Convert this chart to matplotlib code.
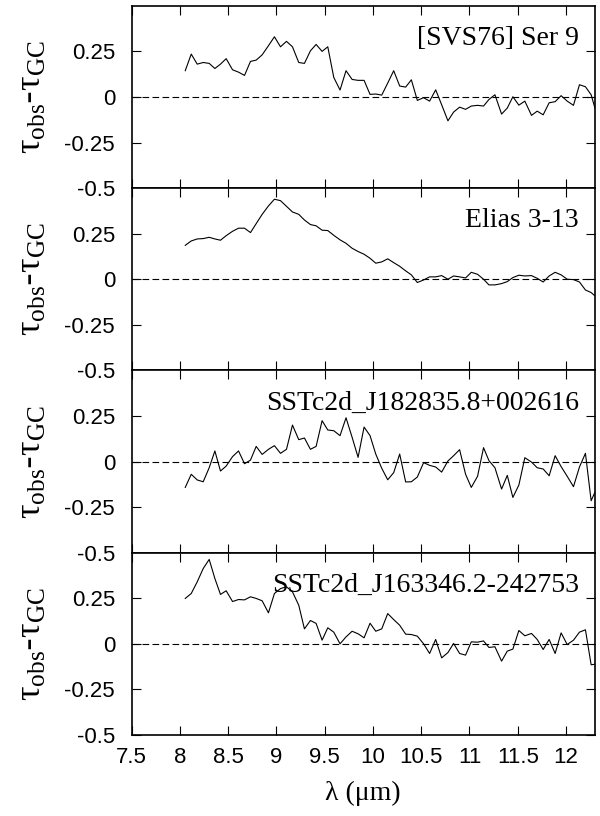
import matplotlib
matplotlib.use('Agg')
import matplotlib.pyplot as plt

plt.rcParams['mathtext.fontset'] = 'custom'
plt.rcParams['mathtext.rm'] = 'Liberation Serif'
plt.rcParams['mathtext.it'] = 'Liberation Serif:italic'
plt.rcParams['axes.unicode_minus'] = False

# wavelength grid (micron), shared by all four sources
wave = [8.055, 8.117, 8.179, 8.241, 8.303, 8.362, 8.420, 8.479, 8.545, 8.607,
        8.669, 8.731, 8.790, 8.852, 8.917, 8.979, 9.042, 9.104, 9.166, 9.231,
        9.290, 9.352, 9.411, 9.473, 9.532, 9.594, 9.659, 9.721, 9.784, 9.846,
        9.908, 9.970, 10.029, 10.091, 10.153, 10.215, 10.277, 10.339, 10.398, 10.460,
        10.525, 10.587, 10.650, 10.712, 10.777, 10.836, 10.898, 10.960, 11.019, 11.084,
        11.146, 11.202, 11.264, 11.333, 11.392, 11.450, 11.512, 11.574, 11.643, 11.702,
        11.764, 11.826, 11.888, 11.950, 12.013, 12.078, 12.140, 12.202, 12.261, 12.300]

ser9 = [0.144, 0.235, 0.180, 0.189, 0.184, 0.156, 0.180, 0.210, 0.149, 0.136,
        0.118, 0.195, 0.202, 0.231, 0.281, 0.330, 0.275, 0.305, 0.275, 0.189,
        0.184, 0.253, 0.288, 0.250, 0.275, 0.107, 0.038, 0.144, 0.096, 0.091,
        0.091, 0.014, 0.016, 0.010, 0.076, 0.144, 0.060, 0.054, 0.094, -0.019,
        -0.004, -0.023, 0.039, -0.043, -0.131, -0.083, -0.056, -0.068, -0.050, -0.046,
        -0.050, -0.014, 0.012, -0.094, -0.061, 0.001, -0.045, -0.023, -0.101, -0.078,
        -0.098, -0.032, -0.026, 0.007, -0.023, -0.046, 0.067, 0.056, 0.012, -0.060]

elias = [0.186, 0.210, 0.221, 0.223, 0.230, 0.221, 0.214, 0.239, 0.263, 0.280,
         0.280, 0.256, 0.305, 0.356, 0.402, 0.439, 0.431, 0.400, 0.369, 0.356,
         0.325, 0.300, 0.293, 0.269, 0.267, 0.241, 0.216, 0.197, 0.170, 0.152,
         0.137, 0.115, 0.088, 0.095, 0.112, 0.091, 0.071, 0.046, 0.024, -0.018,
         -0.004, 0.013, 0.013, 0.020, 0.000, 0.018, 0.013, 0.007, 0.038, 0.027,
         0.000, -0.031, -0.031, -0.024, -0.013, 0.009, 0.022, 0.018, 0.020, 0.005,
         -0.015, 0.018, 0.038, 0.024, 0.000, -0.002, -0.015, -0.059, -0.073, -0.091]

j1828 = [-0.142, -0.070, -0.101, -0.111, -0.034, 0.058, -0.052, -0.025, 0.027, 0.058,
         -0.012, 0.008, 0.083, 0.039, 0.067, 0.087, 0.045, 0.067, 0.200, 0.120,
         0.129, 0.067, 0.083, 0.224, 0.173, 0.169, 0.142, 0.240, 0.133, 0.023,
         0.189, 0.142, 0.041, -0.037, -0.100, -0.061, 0.041, -0.112, -0.111, -0.085,
         -0.006, -0.021, -0.030, -0.058, 0.003, 0.032, 0.065, -0.070, -0.142, -0.081,
         0.076, 0.005, -0.034, -0.151, -0.076, -0.197, -0.129, 0.021, -0.003, -0.034,
         -0.041, -0.078, 0.032, -0.028, -0.081, -0.138, -0.030, 0.045, -0.215, -0.169]

j1633 = [0.249, 0.276, 0.340, 0.413, 0.463, 0.358, 0.271, 0.291, 0.232, 0.243,
         0.241, 0.258, 0.249, 0.236, 0.170, 0.276, 0.303, 0.313, 0.285, 0.212,
         0.082, 0.128, 0.112, 0.020, 0.088, 0.064, 0.000, 0.038, 0.069, 0.055,
         0.033, 0.113, 0.069, 0.082, 0.166, 0.133, 0.102, 0.053, 0.051, 0.042,
         0.000, -0.053, 0.024, -0.077, -0.048, 0.002, -0.053, -0.062, 0.011, 0.009,
         0.016, -0.020, -0.016, -0.095, -0.040, -0.029, 0.073, 0.044, 0.057, 0.024,
         -0.031, 0.024, -0.053, 0.060, -0.004, 0.020, 0.064, 0.077, -0.115, -0.112]

names = ['[SVS76] Ser 9', 'Elias 3-13', 'SSTc2d_J182835.8+002616', 'SSTc2d_J163346.2-242753']
series = [ser9, elias, j1828, j1633]

xticks = [7.5, 8, 8.5, 9, 9.5, 10, 10.5, 11, 11.5, 12]
xticklabels = ['7.5', '8', '8.5', '9', '9.5', '10', '10.5', '11', '11.5', '12']
yticks = [-0.5, -0.25, 0, 0.25]
yticklabels = ['-0.5', '-0.25', '0', '0.25']

fig = plt.figure(figsize=(6.0, 8.16), dpi=100)
left, width = 0.2195, 0.772
bottom, height = 0.0993, 0.2234

for i, (name, tau) in enumerate(zip(names, series)):
    ax = fig.add_axes([left, bottom + (3 - i) * height, width, height])
    ax.plot(wave, tau, color='black', lw=0.8)
    ax.axhline(0, color='black', lw=0.8, linestyle=(0, (6, 3)))
    ax.set_xlim(7.5, 12.3)
    ax.set_ylim(-0.5, 0.5)
    ax.set_xticks(xticks)
    ax.set_yticks(yticks)
    ax.set_yticklabels(yticklabels, family='Liberation Sans', fontsize=16)
    if i == 3:
        ax.set_xticklabels(xticklabels, family='Liberation Sans', fontsize=16)
        ax.set_xlabel('λ (μm)', family='Liberation Serif', fontsize=20, labelpad=9)
    else:
        ax.set_xticklabels([])
    ax.tick_params(direction='in', top=True, right=True, length=6.5, width=0.8)
    ax.tick_params(axis='y', pad=12)
    ax.tick_params(axis='x', pad=9)
    for sp in ax.spines.values():
        sp.set_linewidth(1.2)
    ax.set_ylabel(r'$\mathrm{\tau}_{\mathrm{obs}}$-$\mathrm{\tau}_{\mathrm{GC}}$',
                  fontsize=26, labelpad=12)
    ax.text(0.965, 0.786, name, transform=ax.transAxes, ha='right', va='baseline',
            family='Liberation Serif', fontsize=20)

fig.savefig('out.png', dpi=100)
